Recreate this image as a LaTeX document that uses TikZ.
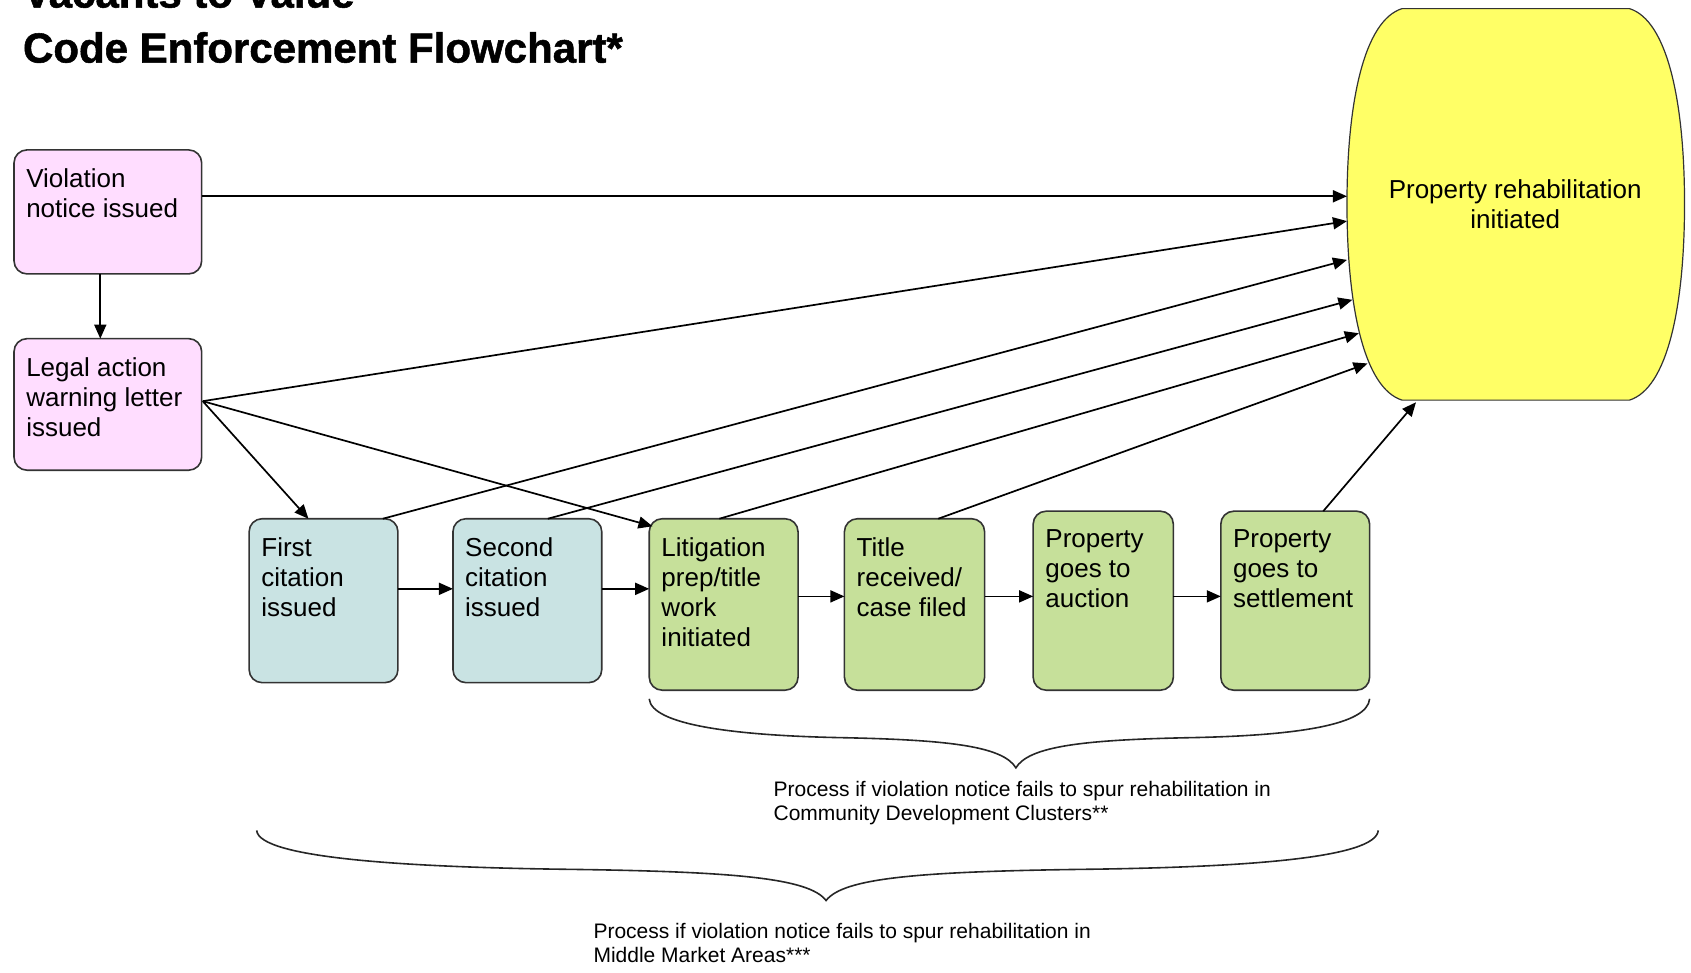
\documentclass[tikz,border=0pt]{standalone}
\usepackage{fontspec}
\setmainfont{Liberation Sans}
\newfontfamily\heavyfont[FakeBold=1.3]{Liberation Sans Bold}
\usetikzlibrary{arrows.meta,calc}
\definecolor{pinkf}{HTML}{FFDDFF}
\definecolor{bluef}{HTML}{C9E3E3}
\definecolor{greenf}{HTML}{C6E09A}
\definecolor{yellowf}{HTML}{FFFF66}
\newcommand\flowbox[7]{%
  \node[box, fill=#2, minimum width={(#5-#3)*0.5392pt}, minimum height={(#6-#4)*0.5392pt}] (#1) at (#3,#4) {};
  \node[boxtext] (#1t) at ($(#1.north west)+(11,17)$) {#7};
}
\begin{document}
\begin{tikzpicture}[x=0.5392pt,y=-0.5392pt,
  box/.style={draw=black!80, line width=0.8pt, rounded corners=6.5pt, anchor=north west, inner sep=0pt, outer sep=0pt},
  boxtext/.style={font=\fontsize{13}{15}\selectfont, align=left, anchor=north west, inner sep=0pt},
  arr/.style={-{Triangle[length=7pt,width=6pt]}, line width=0.85pt},
  brace/.style={line width=0.8pt, black!85},
  note/.style={font=\fontsize{10.5}{11.9}\selectfont, align=left, anchor=north west, inner sep=0pt},
  titlef/.style={font=\heavyfont\fontsize{21}{27}\selectfont, anchor=base west, inner sep=0pt}]
\useasboundingbox (0,0) rectangle (1568,902);

% titles
\node[titlef] (title1) at (21,7) {Vacants to Value};
\node[titlef] (title2) at (21,58) {Code Enforcement Flowchart*};

% yellow target shape
\path[fill=yellowf, draw=black!80, line width=0.6pt]
  (1300,8) -- (1511,8)
  .. controls (1546,19) and (1562,94) .. (1562,189)
  .. controls (1562,285) and (1546,360) .. (1511,371)
  -- (1300,371)
  .. controls (1265,360) and (1249,285) .. (1249,189)
  .. controls (1249,94) and (1265,19) .. (1300,8) -- cycle;
\node[font=\fontsize{13}{15}\selectfont, align=center, anchor=north, inner sep=0pt] (rehab) at (1405,166) {Property rehabilitation\\initiated};
\coordinate (r1) at (1249,182);
\coordinate (r2) at (1249,205);
\coordinate (r3) at (1249,241);
\coordinate (r4) at (1254,278);
\coordinate (r5) at (1260,309);
\coordinate (r6) at (1268,337);
\coordinate (r7) at (1313,373);

% boxes
\flowbox{vio}{pinkf}{13}{139}{187}{254}{Violation\\notice issued}
\flowbox{leg}{pinkf}{13}{314}{187}{436}{Legal action\\warning letter\\issued}
\flowbox{fc}{bluef}{231}{481}{369}{633}{First\\citation\\issued}
\flowbox{sc}{bluef}{420}{481}{558}{633}{Second\\citation\\issued}
\flowbox{lit}{greenf}{602}{481}{740}{640}{Litigation\\prep/title\\work\\initiated}
\flowbox{tit}{greenf}{783}{481}{913}{640}{Title\\received/\\case filed}
\flowbox{auc}{greenf}{958}{474}{1088}{640}{Property\\goes to\\auction}
\flowbox{set}{greenf}{1132}{474}{1270}{640}{Property\\goes to\\settlement}

% connectors
\draw[arr] ($(vio.south)+(-7,0)$) coordinate (v0) -- (leg.north -| v0);
\draw[arr] (vio.east |- r1) -- (r1);
\coordinate (legp) at ($(leg.east)+(1,-3)$);
\draw[arr] (legp) -- (r2);
\draw[arr] (legp) -- ($(fc.north west)+(55,0)$);
\draw[arr] (legp) -- ($(lit.north west)+(3,7)$);
\draw[arr] ($(fc.north west)+(124,0)$) -- (r3);
\draw[arr] ($(sc.north west)+(88,0)$) -- (r4);
\draw[arr] ($(lit.north west)+(65,0)$) -- (r5);
\draw[arr] ($(tit.north west)+(87,0)$) -- (r6);
\draw[arr] ($(set.north west)+(95,0)$) -- (r7);

\draw[arr] ($(fc.east)+(0,-11)$) coordinate (h1) -- (sc.west |- h1);
\draw[arr] ($(sc.east)+(0,-11)$) coordinate (h2) -- (lit.west |- h2);
\draw[arr] ($(lit.east)+(0,-7.5)$) coordinate (h3) -- (tit.west |- h3);
\draw[arr] ($(tit.east)+(0,-7.5)$) coordinate (h4) -- (auc.west |- h4);
\draw[arr] ($(auc.east)+(0,-4)$) coordinate (h5) -- (set.west |- h5);

% braces
\draw[brace] (602,648) .. controls (604,672) and (680,682) .. (780,684)
  .. controls (880,686) and (930,692) .. (942,712)
  .. controls (954,692) and (1004,686) .. (1104,684)
  .. controls (1204,682) and (1268,672) .. (1270,648);
\draw[brace] (238,770) .. controls (240,796) and (380,804) .. (520,806)
  .. controls (680,808) and (750,814) .. (766,835)
  .. controls (782,814) and (852,808) .. (1012,806)
  .. controls (1152,804) and (1276,796) .. (1278,770);

\node[note] (cdc) at (717,724) {Process if violation notice fails to spur rehabilitation in\\Community Development Clusters**};
\node[note] (mma) at (550,856) {Process if violation notice fails to spur rehabilitation in\\Middle Market Areas***};
\end{tikzpicture}
\end{document}
